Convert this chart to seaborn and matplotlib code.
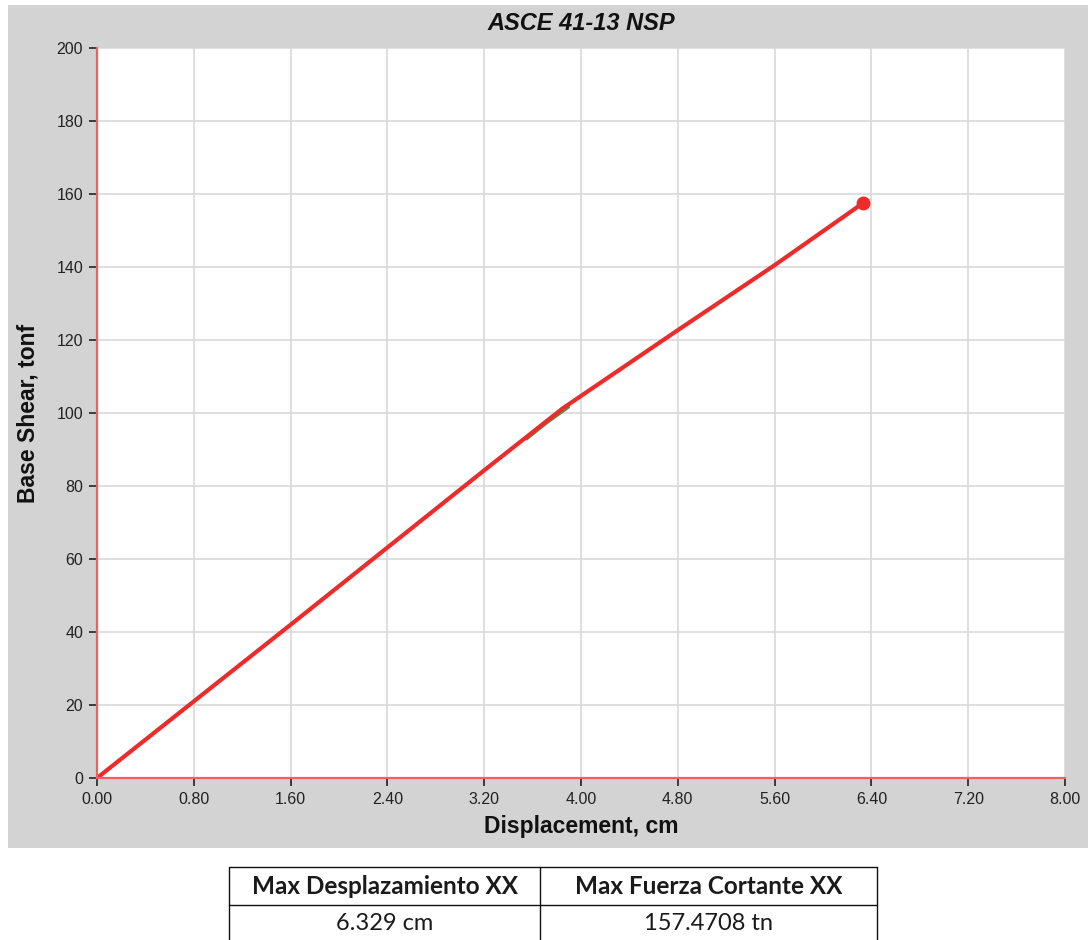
import matplotlib
matplotlib.use("Agg")
import matplotlib.pyplot as plt
from matplotlib.patches import Rectangle
from matplotlib.lines import Line2D
import numpy as np
import pandas as pd
import seaborn as sns

# Pushover (capacity) curve, ASCE 41-13 nonlinear static procedure
displacement_cm = [0.0, 1.6, 3.2, 3.85, 4.8, 5.6, 6.329]
base_shear_tonf = [0.0, 42.0, 84.3, 101.3, 122.7, 140.5, 157.4708]

# Short secondary trace peeking out beneath the main curve near the kink
aux_displacement = [3.55, 3.72, 3.90]
aux_shear = [92.8, 97.3, 101.6]

x_ticks = [0.0, 0.8, 1.6, 2.4, 3.2, 4.0, 4.8, 5.6, 6.4, 7.2, 8.0]
y_ticks = [0, 20, 40, 60, 80, 100, 120, 140, 160, 180, 200]

table_headers = ["Max Desplazamiento XX", "Max Fuerza Cortante XX"]

sns.set_style("white")
plt.rcParams["font.family"] = ["Liberation Sans", "DejaVu Sans"]

W, H = 1088, 940
fig = plt.figure(figsize=(W / 100, H / 100), dpi=100)
fig.patch.set_facecolor("white")

# grey chart panel, kept behind the axes
panel = Rectangle((8 / W, 1 - 848 / H), (W - 8) / W, (848 - 5) / H,
                  transform=fig.transFigure, facecolor="#d3d3d3",
                  edgecolor="none", zorder=-5)
fig.patches.append(panel)

ax_l, ax_r, ax_t, ax_b = 97, 1065, 48, 778
ax = fig.add_axes([ax_l / W, 1 - ax_b / H, (ax_r - ax_l) / W, (ax_b - ax_t) / H])
ax.set_zorder(1)
ax.set_facecolor("white")

curve = pd.DataFrame({"disp": displacement_cm, "shear": base_shear_tonf})
aux = pd.DataFrame({"disp": aux_displacement, "shear": aux_shear})

sns.lineplot(data=aux, x="disp", y="shear", sort=False, ax=ax,
             color="#4a8f4a", linewidth=1.8, zorder=3)
sns.lineplot(data=curve, x="disp", y="shear", sort=False, ax=ax,
             color="#ee2b2b", linewidth=3.0, zorder=4)
ax.plot(displacement_cm[-1], base_shear_tonf[-1], "o", color="#ee2b2b",
        markersize=9, zorder=5)

ax.set_xlim(0, 8)
ax.set_ylim(0, 200)
ax.set_xticks(x_ticks)
ax.set_yticks(y_ticks)
ax.set_xticklabels([f"{v:.2f}" for v in x_ticks])
ax.set_yticklabels([str(v) for v in y_ticks])
ax.grid(True, color="#d9d9d9", linewidth=1.2)
ax.set_axisbelow(True)

for side in ["top", "right"]:
    ax.spines[side].set_visible(False)
for side in ["left", "bottom"]:
    ax.spines[side].set_color("#f06060")
    ax.spines[side].set_linewidth(1.6)
    ax.spines[side].set_zorder(6)

ax.tick_params(axis="both", direction="out", length=6, width=1.2,
               color="#222222", labelsize=11.5, labelcolor="#222222", pad=4)
ax.tick_params(axis="both", which="both", bottom=True, left=True)

ax.set_xlabel("Displacement, cm", fontsize=16.5, fontweight="bold",
              color="#111111", labelpad=6)
ax.set_ylabel("Base Shear, tonf", fontsize=16.5, fontweight="bold",
              color="#111111", labelpad=12)
ax.set_title("ASCE 41-13 NSP", fontsize=17, fontweight="bold",
             fontstyle="italic", color="#111111", pad=13)

# summary table below the chart
tx0, tx1, txm = 229, 877, 540
ty0, ty1, ty2 = 867, 905, 940
line_kw = dict(color="#111111", linewidth=1.0, transform=fig.transFigure)
def fx(px):
    return px / W
def fy(py):
    return 1 - py / H
fig.lines.append(Line2D([fx(tx0), fx(tx1)], [fy(ty0), fy(ty0)], **line_kw))
fig.lines.append(Line2D([fx(tx0), fx(tx1)], [fy(ty1), fy(ty1)], **line_kw))
fig.lines.append(Line2D([fx(tx0), fx(tx0)], [fy(ty0), fy(ty2)], **line_kw))
fig.lines.append(Line2D([fx(txm), fx(txm)], [fy(ty0), fy(ty2)], **line_kw))
fig.lines.append(Line2D([fx(tx1), fx(tx1)], [fy(ty0), fy(ty2)], **line_kw))

table_values = [f"{displacement_cm[-1]:.3f} cm", f"{base_shear_tonf[-1]:.4f} tn"]
cols = [(tx0 + txm) / 2, (txm + tx1) / 2]
for cx, head, val in zip(cols, table_headers, table_values):
    fig.text(fx(cx), fy((ty0 + ty1) / 2), head, ha="center", va="center",
             fontsize=17.5, fontweight="bold", family=["Lato", "DejaVu Sans"],
             color="#1a1a1a")
    fig.text(fx(cx), fy((ty1 + ty2) / 2 + 1), val, ha="center", va="center",
             fontsize=17, family=["Lato", "DejaVu Sans"], color="#1a1a1a")

fig.savefig("out.png", dpi=100)
